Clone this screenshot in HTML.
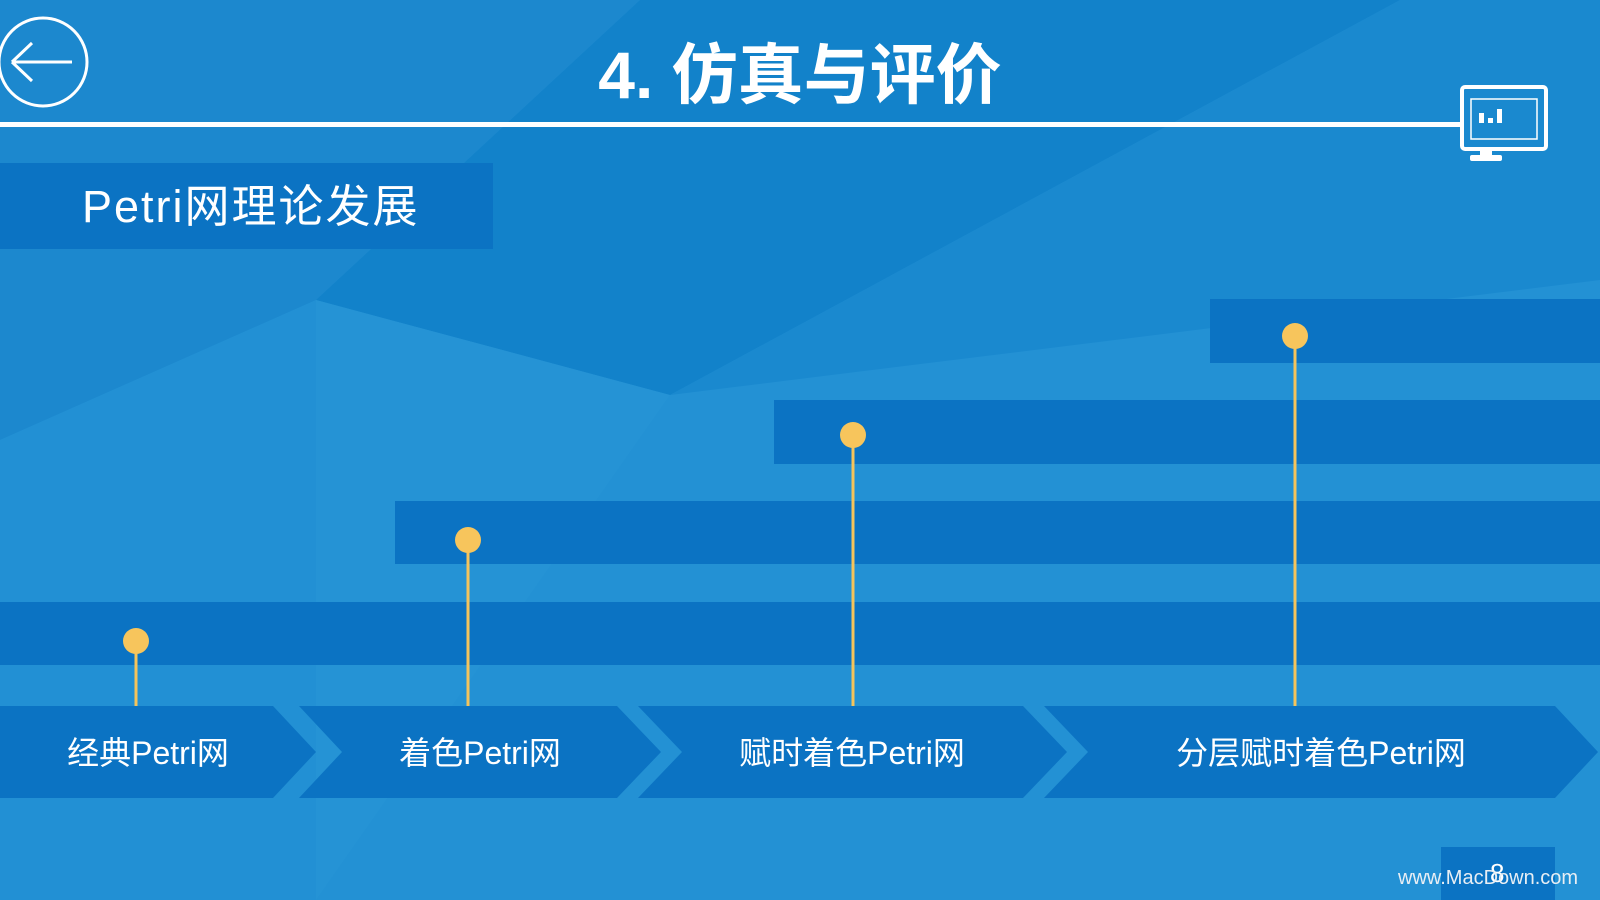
<!DOCTYPE html>
<html><head><meta charset="utf-8"><style>
body{margin:0;width:1600px;height:900px;overflow:hidden;background:#1f8ad0;font-family:"Liberation Sans","Noto Sans CJK SC",sans-serif;}
.a{position:absolute}
.t{position:absolute;color:#fff;white-space:nowrap}
</style></head><body>
<svg class="a" style="left:0;top:0" width="1600" height="900">
<rect width="1600" height="900" fill="#2391d4"/>
<polygon points="0,0 640,0 316,300 0,440" fill="#1c88ce"/>
<polygon points="640,0 1400,0 670,395 316,300" fill="#1282ca"/>
<polygon points="1400,0 1600,0 1600,280 670,395" fill="#1a89cf"/>
<polygon points="316,300 670,395 316,900" fill="#2593d5"/>
<polygon points="0,440 316,300 316,900 0,900" fill="#2290d4"/>
<rect x="0" y="122" width="1461" height="5" fill="#fff"/>
<circle cx="43" cy="62" r="44" fill="none" stroke="#fff" stroke-width="3"/>
<path d="M12 62 H72 M12 62 L32 43 M12 62 L32 81" stroke="#fff" stroke-width="3" fill="none"/>
<rect x="0" y="163" width="493" height="86" fill="#0b73c3"/>
<rect x="1210" y="299" width="390" height="64" fill="#0b73c3"/>
<rect x="774" y="400" width="826" height="64" fill="#0b73c3"/>
<rect x="395" y="501" width="1205" height="63" fill="#0b73c3"/>
<rect x="0" y="602" width="1600" height="63" fill="#0b73c3"/>
<g fill="#0b73c3">
<polygon points="0,706 273,706 316,752 273,798 0,798"/>
<polygon points="299,706 617,706 661,752 617,798 299,798 342,752"/>
<polygon points="638,706 1023,706 1067,752 1023,798 638,798 682,752"/>
<polygon points="1044,706 1555,706 1598,752 1555,798 1044,798 1088,752"/>
</g>
<g stroke="#f5c45c" stroke-width="3">
<line x1="136" y1="641" x2="136" y2="706"/><line x1="468" y1="540" x2="468" y2="706"/>
<line x1="853" y1="435" x2="853" y2="706"/><line x1="1295" y1="336" x2="1295" y2="706"/>
</g>
<g fill="#f7c55c">
<circle cx="136" cy="641" r="13"/><circle cx="468" cy="540" r="13"/>
<circle cx="853" cy="435" r="13"/><circle cx="1295" cy="336" r="13"/>
</g>
<rect x="1441" y="847" width="114" height="53" fill="#0b73c3"/>
<g fill="none" stroke="#fff" stroke-width="4">
<rect x="1462" y="87" width="84" height="62" rx="3"/>
</g>
<rect x="1480" y="150" width="12" height="6" fill="#fff"/>
<rect x="1470" y="155" width="32" height="6" rx="2" fill="#fff"/>
<rect x="1471" y="99" width="66" height="40" fill="none" stroke="#fff" stroke-width="1.5"/>
<rect x="1479" y="113" width="5" height="10" fill="#fff"/><rect x="1488" y="118" width="5" height="5" fill="#fff"/><rect x="1497" y="109" width="5" height="14" fill="#fff"/>
</svg>
<div class="t" style="left:0;width:1600px;text-align:center;top:30px;font-size:66px;font-weight:bold;line-height:90px">4. 仿真与评价</div>
<div class="t" style="left:82px;top:180px;font-size:45px;line-height:54px;letter-spacing:2px">Petri网理论发展</div>
<div class="t" style="left:0;width:296px;text-align:center;top:733px;font-size:32px;line-height:40px">经典Petri网</div>
<div class="t" style="left:330px;width:300px;text-align:center;top:733px;font-size:32px;line-height:40px">着色Petri网</div>
<div class="t" style="left:702px;width:300px;text-align:center;top:733px;font-size:32px;line-height:40px">赋时着色Petri网</div>
<div class="t" style="left:1121px;width:400px;text-align:center;top:733px;font-size:32px;line-height:40px">分层赋时着色Petri网</div>
<div class="t" style="left:1490px;top:858px;font-size:26px;line-height:30px">8</div>
<div class="t" style="left:1398px;top:866px;font-size:20px;line-height:24px;color:#e8eef4">www.MacDown.com</div>
</body></html>
